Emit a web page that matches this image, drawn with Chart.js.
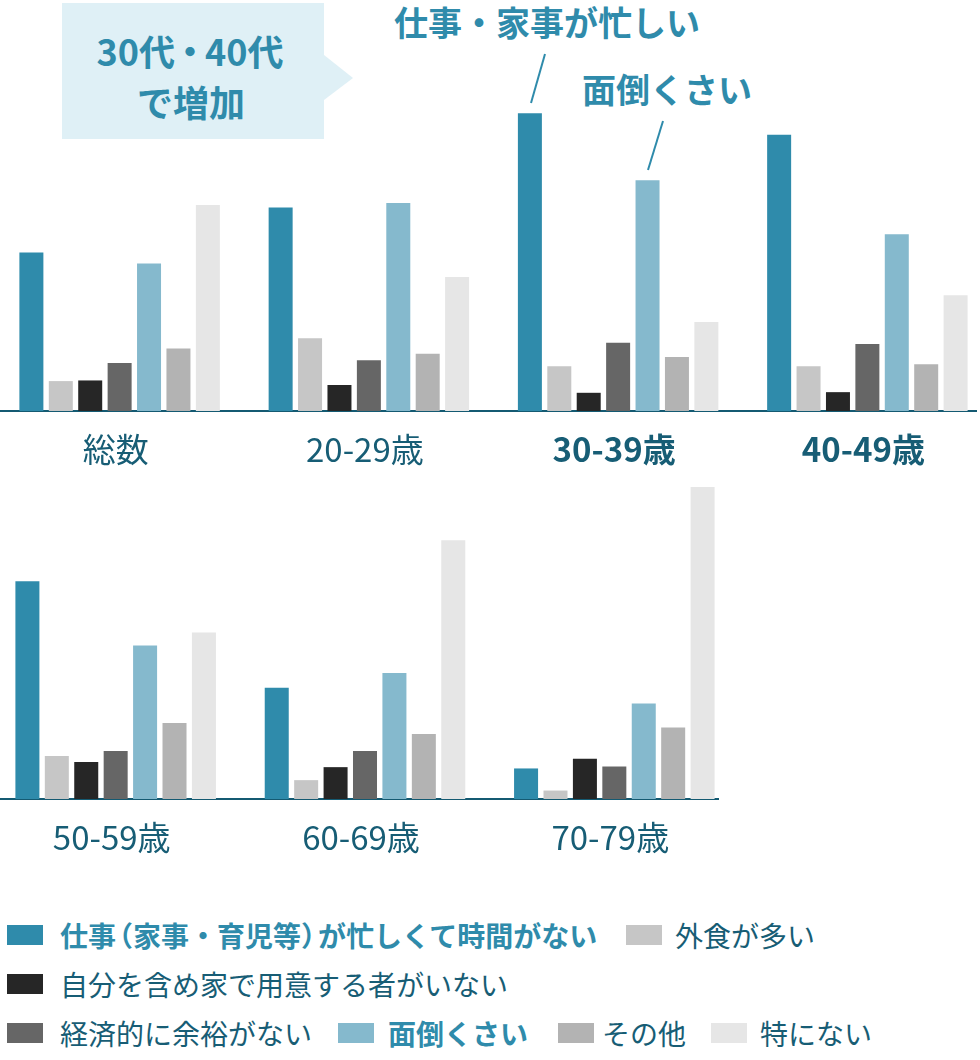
<!DOCTYPE html>
<html lang="ja">
<head>
    <meta charset="UTF-8">
    <title>食事を作らない理由（年代別）</title>
    <script src="https://cdn.jsdelivr.net/npm/chart.js@4/dist/chart.umd.min.js"></script>
    <style>
        body { margin: 0; background: #fff; font-family: 'Noto Sans CJK JP', sans-serif; }
        #page { position: relative; width: 980px; height: 1060px; overflow: hidden; }
        .wrap { position: absolute; left: 0; overflow: hidden; }
        .wrap canvas { position: absolute; top: 0; }
        .note { position: absolute; font-weight: bold; color: #2f8bab; font-size: 34px; line-height: 34px; white-space: nowrap; transform: translate(-50%, -50%); }
        .note.big { font-size: 36px; line-height: 36px; }
        .callout { position: absolute; left: 62px; top: 3px; width: 262px; height: 136px; background: #dff0f6; }
        .sw { position: absolute; width: 36px; height: 20px; }
        .lg { position: absolute; font-size: 28px; line-height: 28px; color: #175d75; white-space: nowrap; transform: translateY(-50%); }
        .lg.hi { color: #2f8bab; font-weight: bold; }
        .pl { margin-left: -11px; }
        .pr { margin-right: -11px; }
        svg { position: absolute; left: 0; top: 0; }
    </style>
</head>
<body>
<div id="page">
    <div class="callout"></div>
    <svg width="980" height="200">
        <polygon points="324,55 353,78 324,100" fill="#dff0f6"/>
        <line x1="545" y1="54" x2="531" y2="103" stroke="#2f8bab" stroke-width="2"/>
        <line x1="663" y1="121" x2="648" y2="170" stroke="#2f8bab" stroke-width="2"/>
    </svg>
    <div class="note big" style="left:190px; top:50px;">30代<span style="margin:0 -3px">・</span>40代</div>
    <div class="note big" style="left:191px; top:101px;">で増加</div>
    <div class="note" style="left:547px; top:22px;">仕事・家事が忙しい</div>
    <div class="note" style="left:667px; top:89px;">面倒くさい</div>

    <div class="wrap" style="top:21px; width:977px; height:448px;">
        <canvas id="topChart" width="997" height="448" style="left:-5px;"></canvas>
    </div>
    <div class="wrap" style="top:474px; width:719px; height:383px;">
        <canvas id="bottomChart" width="748" height="383" style="left:-9px;"></canvas>
    </div>

    <div id="legend"></div>
</div>

<script>
    // categories and series (values in %)
    const groups = ['総数', '20-29歳', '30-39歳', '40-49歳', '50-59歳', '60-69歳', '70-79歳'];
    const boldGroups = ['30-39歳', '40-49歳'];
    const seriesNames = [
        '仕事（家事・育児等）が忙しくて時間がない',
        '外食が多い',
        '自分を含め家で用意する者がいない',
        '経済的に余裕がない',
        '面倒くさい',
        'その他',
        '特にない'
    ];
    const busy    = [24.4, 31.3, 45.8, 42.5, 33.5, 17.1, 4.7];
    const eatOut  = [4.6, 11.2, 6.9, 6.9, 6.6, 2.9, 1.3];
    const noOne   = [4.7, 4.0, 2.8, 2.9, 5.7, 4.9, 6.2];
    const money   = [7.4, 7.8, 10.5, 10.3, 7.4, 7.4, 5.0];
    const bother  = [22.7, 32.0, 35.5, 27.2, 23.6, 19.4, 14.7];
    const other   = [9.6, 8.8, 8.3, 7.2, 11.7, 10.0, 11.0];
    const nothing = [31.7, 20.6, 13.7, 17.8, 25.6, 39.8, 48.0];

    const seriesData = [busy, eatOut, noOne, money, bother, other, nothing];
    const colors = ['#2f8bab', '#c6c6c6', '#262626', '#666666', '#85b9cd', '#b3b3b3', '#e6e6e6'];
    const fontFamily = "'Noto Sans CJK JP', sans-serif";
    const labelColor = '#175d75';

    function makeChart(id, from, to, yMax) {
        return new Chart(document.getElementById(id), {
            type: 'bar',
            data: {
                labels: groups.slice(from, to),
                datasets: seriesData.map((d, i) => ({
                    label: seriesNames[i],
                    data: d.slice(from, to),
                    backgroundColor: colors[i],
                    borderWidth: 0,
                    categoryPercentage: 0.826,
                    barPercentage: 0.816
                }))
            },
            options: {
                responsive: false,
                animation: false,
                layout: { padding: 0 },
                plugins: { legend: { display: false }, tooltip: { enabled: false } },
                scales: {
                    x: {
                        grid: { display: false, drawTicks: false },
                        border: { display: true, color: '#145a72', width: 2 },
                        ticks: {
                            padding: 19,
                            labelOffset: -4,
                            color: labelColor,
                            font: (ctx) => ({
                                family: fontFamily,
                                size: 33,
                                lineHeight: 1.2,
                                weight: ctx.tick && boldGroups.includes(ctx.tick.label) ? 'bold' : 'normal'
                            })
                        },
                        afterFit: (scale) => { scale.height = 58; }
                    },
                    y: { display: false, min: 0, max: yMax }
                }
            }
        });
    }

    makeChart('topChart', 0, 4, 60);
    makeChart('bottomChart', 4, 7, 50);

    // legend (positions)
    const legendItems = [
        { s: 0, x: 7,   tx: 60,  y: 935, hi: true,
          html: '仕事<span class="pl">（</span>家事・育児等<span class="pr">）</span>が忙しくて時間がない' },
        { s: 1, x: 626, tx: 675, y: 935 },
        { s: 2, x: 7,   tx: 60,  y: 984 },
        { s: 3, x: 7,   tx: 60,  y: 1033 },
        { s: 4, x: 338, tx: 388, y: 1033, hi: true },
        { s: 5, x: 558, tx: 602, y: 1033 },
        { s: 6, x: 711, tx: 760, y: 1033 }
    ];
    const legend = document.getElementById('legend');
    legendItems.forEach(it => {
        const sw = document.createElement('div');
        sw.className = 'sw';
        sw.style.left = it.x + 'px';
        sw.style.top = (it.y - 10) + 'px';
        sw.style.background = colors[it.s];
        legend.appendChild(sw);
        const t = document.createElement('div');
        t.className = 'lg' + (it.hi ? ' hi' : '');
        t.style.left = it.tx + 'px';
        t.style.top = it.y + 'px';
        if (it.html) t.innerHTML = it.html; else t.textContent = seriesNames[it.s];
        legend.appendChild(t);
    });
</script>
</body>
</html>
